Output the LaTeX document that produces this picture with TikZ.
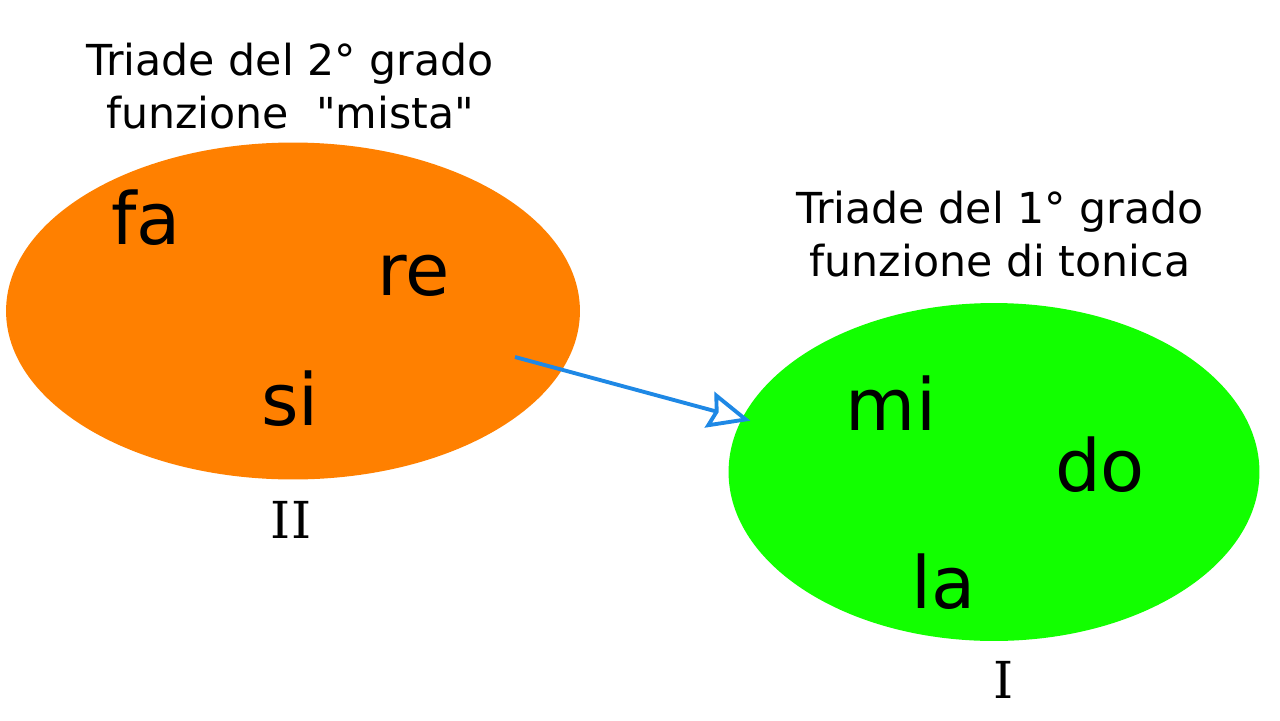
\documentclass[tikz,border=0pt]{standalone}
\usepackage{fontspec}
\setmainfont{DejaVu Sans}
\newfontfamily\degreefont{DejaVu Serif}
\usepackage{xcolor}
\usetikzlibrary{arrows.meta, shapes.geometric, positioning}

\definecolor{triorange}{HTML}{FF8000}
\definecolor{trigreen}{HTML}{12FF00}
\definecolor{triblue}{HTML}{1E88E5}

\begin{document}
\begin{tikzpicture}[
  x=0.02cm, y=-0.02cm,
  triad/.style={ellipse, draw=none, inner sep=0pt},
  note/.style={font=\fontsize{24.3}{30.6}\selectfont, align=center},
  tone/.style={font=\fontsize{41}{48}\selectfont, anchor=base},
  degree/.style={font=\degreefont\fontsize{29}{36}\selectfont, anchor=base},
  arrow/.style={-{Stealth[open, length=24pt, width=21pt, inset=3pt, line width=2.2pt]},
                line width=2.2pt, triblue, shorten >=-5pt},
]
  \useasboundingbox (0,0) rectangle (1280,720);

  % ellipses
  \node[triad, fill=triorange, minimum width=11.48cm, minimum height=6.74cm] (mista) at (293,311) {};
  \node[triad, fill=trigreen, minimum width=10.62cm, minimum height=6.76cm] (tonica) at (994,472) {};

  % titles
  \node[note] (titleII) at (290,86) {Triade del 2° grado\\funzione\ \ \textquotedbl mista\textquotedbl};
  \node[note] (titleI)  at (1000,234) {Triade del 1° grado\\funzione di tonica};

  % notes of the triads
  \node[tone] (fa) at (146,244) {fa};
  \node[tone] (re) at (414,295) {re};
  \node[tone] (si) at (290,425) {si};
  \node[tone] (mi) at (891,430) {mi};
  \node[tone] (do) at (1100,491) {do};
  \node[tone] (la) at (944,608) {la};

  \node[degree] (degII) at (291,538) {II};
  \node[degree] (degI)  at (1004,698) {I};

  \coordinate (from) at (515,357);
  \draw[arrow] (from) -- (tonica.168);
\end{tikzpicture}
\end{document}
